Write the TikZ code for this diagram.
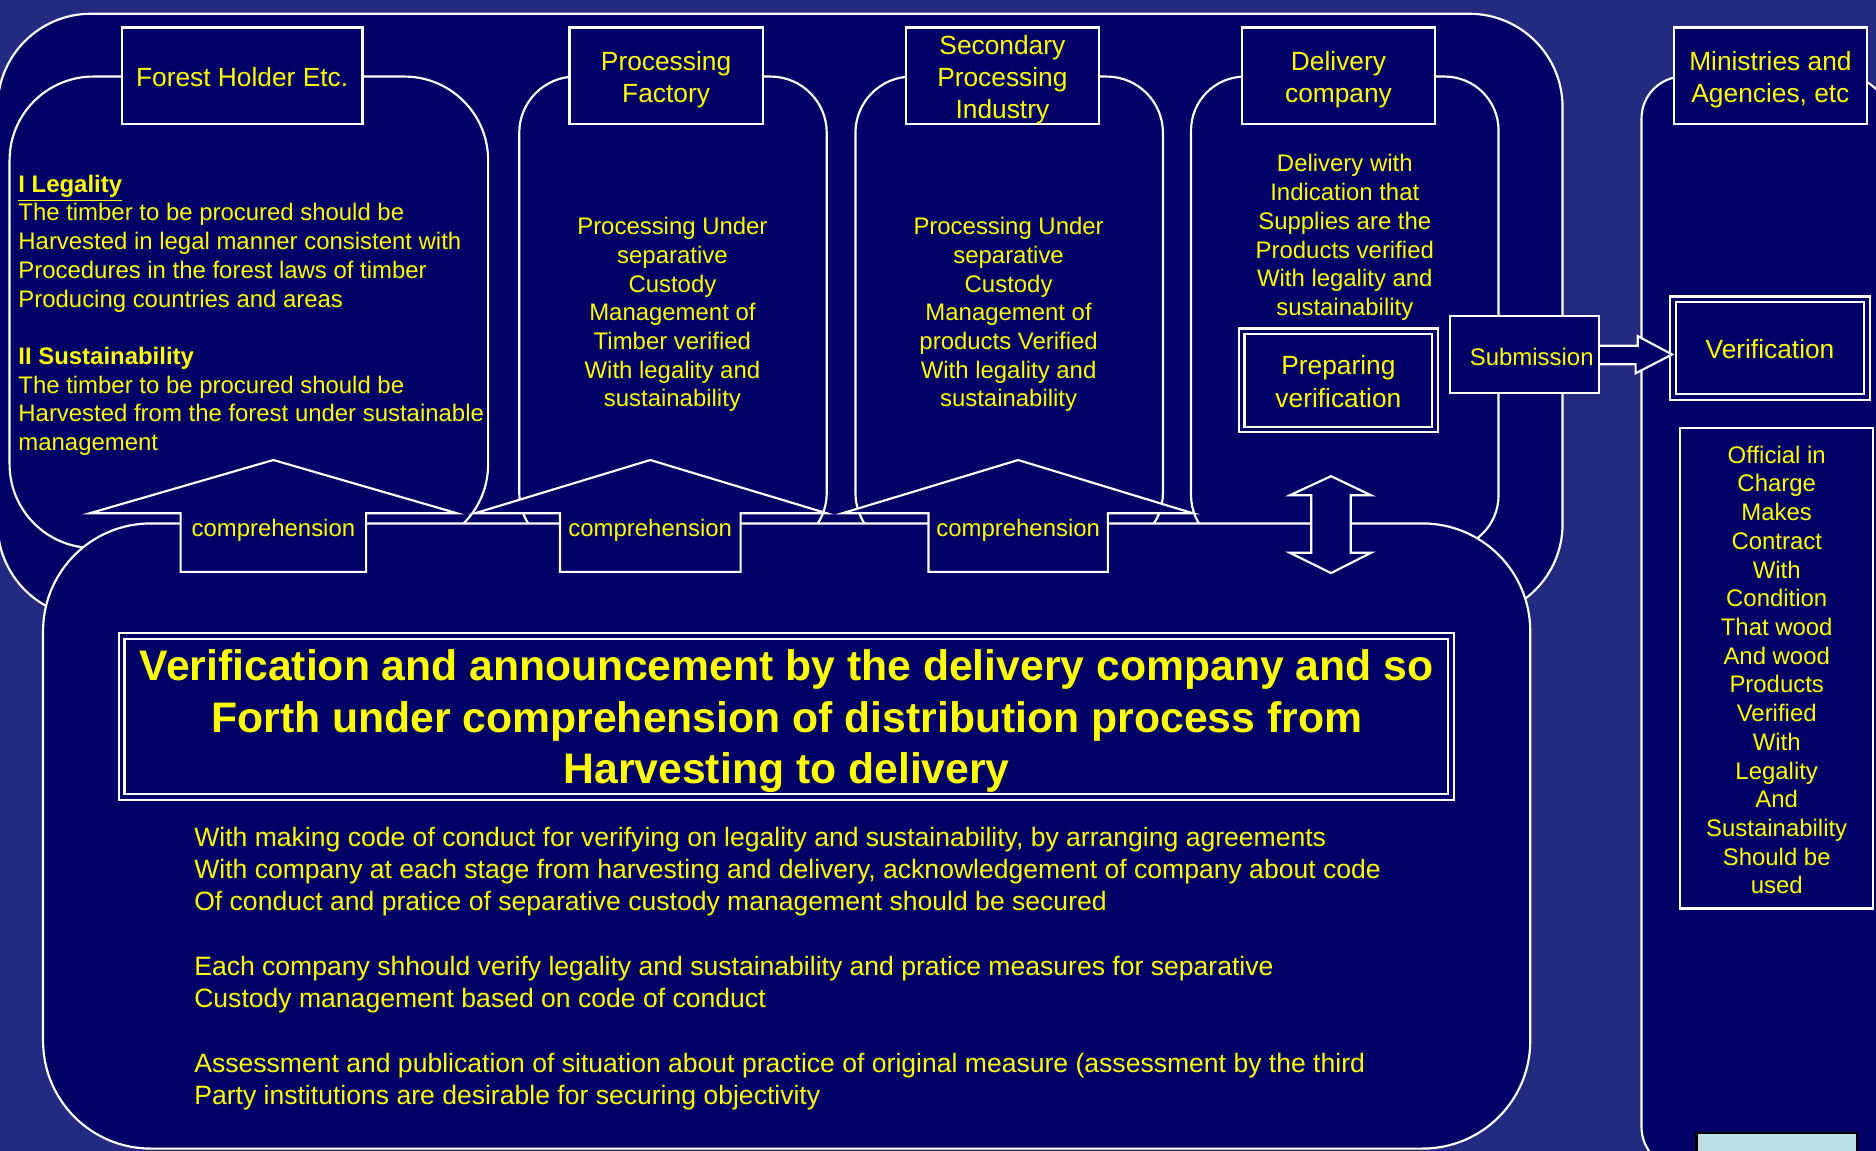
\documentclass[tikz,border=0pt]{standalone}
\usepackage{fontspec}
\setmainfont{Liberation Sans}
\usetikzlibrary{calc}
\definecolor{bgblue}{RGB}{36,42,128}
\definecolor{pnlblue}{RGB}{0,0,102}
\definecolor{ylw}{RGB}{255,255,0}
\definecolor{btncyan}{RGB}{186,224,228}
\tikzset{
  pnl/.style={draw=white, line width=0.9pt, fill=pnlblue},
  wh/.style 2 args={minimum width=#1*0.5pt, minimum height=#2*0.5pt},
  shell/.style={pnl, inner sep=0pt},
  hdrtext/.style={inner sep=0pt, align=center, text=ylw, font=\fontsize{11pt}{13.5pt}\selectfont},
  body/.style={text=ylw, inner sep=0pt, font=\fontsize{10pt}{12pt}\selectfont},
  dblbox/.style={draw=white, line width=0.9pt, double=pnlblue, double distance=1.5pt, fill=pnlblue, inner sep=0pt},
  blockarrow/.style={pnl, line join=miter},
}
\begin{document}
\begin{tikzpicture}[x=0.5pt,y=-0.5pt]
\useasboundingbox (0,0) rectangle (1568,962);
\clip (0,0) rectangle (1568,962);
\fill[bgblue] (0,0) rectangle (1568,962);

% right panel (ministries)
\node[shell, rounded corners=17.5pt, wh={206}{913}] (minpanel) at (1475,520.5) {};

% outer frame of the chain
\node[shell, rounded corners=39pt, wh={1308}{504.5}] (outer) at (652,263.75) {};

% stage panels
\node[shell, rounded corners=35pt, wh={400}{394}] (p1) at (208,261) {};
\node[shell, rounded corners=23.5pt, wh={257}{395}] (p2) at (562.5,261.5) {};
\node[shell, rounded corners=23.5pt, wh={257}{395}] (p3) at (843.5,261.5) {};
\node[shell, rounded corners=22.5pt, wh={257}{395}] (p4) at (1124,261.5) {};

% headers
\node[shell, wh={201.3}{81}] (h1) at (202.35,63.5) {};
\node[shell, wh={161.4}{81}] (h2) at (556.7,63.5) {};
\node[shell, wh={161.6}{81}] (h3) at (837.8,63.5) {};
\node[shell, wh={161.5}{81}] (h4) at (1118.75,63.5) {};
\node[shell, wh={161.5}{81}] (h5) at (1479.75,63.5) {};
\node[hdrtext] (h1t) at ($(h1)+(0,1)$) {Forest Holder Etc.};
\node[hdrtext] (h2t) at ($(h2)+(0,3)$) {Processing\\Factory};
\node[hdrtext] (h3t) at ($(h3)+(0,3)$) {Secondary\\Processing\\Industry};
\node[hdrtext] (h4t) at ($(h4)+(0,3)$) {Delivery\\company};
\node[hdrtext] (h5t) at ($(h5)+(0,3)$) {Ministries and\\Agencies, etc};

% panel texts
\node[body, align=left, anchor=west] (legal) at (15,263.5) {\underline{\textbf{I Legality}}\\The timber to be procured should be\\Harvested in legal manner consistent with\\Procedures in the forest laws of timber\\Producing countries and areas\\[12pt]\textbf{II Sustainability}\\The timber to be procured should be\\Harvested from the forest under sustainable\\management};
\node[body, align=center] (t2) at (562,263) {Processing Under\\separative\\Custody\\Management of\\Timber verified\\With legality and\\sustainability};
\node[body, align=center] (t3) at (843,263) {Processing Under\\separative\\Custody\\Management of\\products Verified\\With legality and\\sustainability};
\node[body, align=center] (t4) at (1124,198.5) {Delivery with\\Indication that\\Supplies are the\\Products verified\\With legality and\\sustainability};

% base panel
\node[shell, rounded corners=45pt, wh={1243}{522.5}] (base) at (657.5,698.75) {};

% title
\node[dblbox, wh={1111.3}{134.5}] (tbox) at (657.3,598.8) {};
\node[text=ylw, align=center, inner sep=0pt, font=\bfseries\fontsize{17.85pt}{21.5pt}\selectfont] (title) at (657.5,603) {Verification and announcement by the delivery company and so\\Forth under comprehension of distribution process from\\Harvesting to delivery};

\node[body, align=left, anchor=west, font=\fontsize{11.1pt}{13.5pt}\selectfont] (code) at (162,809.5) {With making code of conduct for verifying on legality and sustainability, by arranging agreements\\With company at each stage from harvesting and delivery, acknowledgement of company about code\\Of conduct and pratice of separative custody management should be secured\\[13.5pt]Each company shhould verify legality and sustainability and pratice measures for separative\\Custody management based on code of conduct\\[13.5pt]Assessment and publication of situation about practice of original measure (assessment by the third\\Party institutions are desirable for securing objectivity};

% comprehension arrows
\draw[blockarrow] (228.5,384.5) -- (382,429) -- (306,429) -- (306,478) -- (151,478) -- (151,429) -- (75,429) -- cycle;
\node[body] (c1) at (228.5,443.5) {comprehension};
\draw[blockarrow] (543.5,384.5) -- (691,429) -- (619,429) -- (619,478) -- (468,478) -- (468,429) -- (397,429) -- cycle;
\node[body] (c2) at (543.5,443.5) {comprehension};
\draw[blockarrow] (851,384.5) -- (997,429) -- (926,429) -- (926,478) -- (776,478) -- (776,429) -- (704,429) -- cycle;
\node[body] (c3) at (851,443.5) {comprehension};

% double arrow
\draw[blockarrow] (1112.5,398) -- (1146,414) -- (1129,414) -- (1129,462) -- (1146,462) -- (1112.5,479) -- (1078,462) -- (1096,462) -- (1096,414) -- (1078,414) -- cycle;

% preparing verification
\node[dblbox, wh={161.7}{82}] (prep) at (1118.65,318) {};
\node[hdrtext] (prept) at ($(prep)+(0,1)$) {Preparing\\verification};

% submission and verification
\node[shell, wh={124.5}{64.5}] (sub) at (1274.25,296.25) {};
\node[body] (subt) at ($(sub)+(6,2)$) {Submission};
\node[dblbox, wh={161.8}{81.5}] (ver) at (1479.4,291) {};
\node[hdrtext] (vert) at ($(ver)+(0,1)$) {Verification};
\draw[blockarrow] ($(sub.east)+(0,-7.25)$) -- ++(31.5,0) -- ++(0,-8) -- (ver.west |- sub.east) -- ++(-30.5,15.75) -- ++(0,-7.5) -- ($(sub.east)+(0,8.25)$);

% official
\node[shell, wh={161.7}{401.4}] (off) at (1484.85,558.7) {};
\node[body, align=center] (offt) at (1485,560) {Official in\\Charge\\Makes\\Contract\\With\\Condition\\That wood\\And wood\\Products\\Verified\\With\\Legality\\And\\Sustainability\\Should be\\used};

% button at the corner
\node[draw=black, line width=1pt, fill=btncyan, inner sep=0pt, wh={134}{60}] (btn) at (1485,977) {};
\end{tikzpicture}
\end{document}
